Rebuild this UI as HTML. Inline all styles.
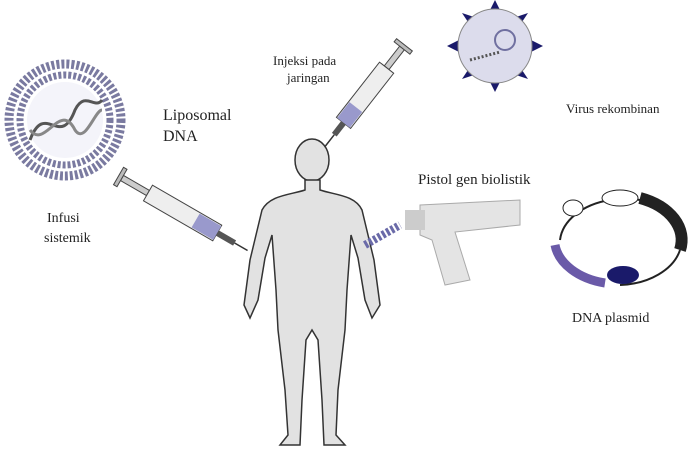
<!DOCTYPE html>
<html><head><meta charset="utf-8"><style>
html,body{margin:0;padding:0;background:#fff;}
svg{display:block;font-family:"Liberation Serif",serif;}
</style></head><body>
<svg width="697" height="450" viewBox="0 0 697 450">
<rect width="697" height="450" fill="#fff"/>
<!-- Liposome -->
<g>
<circle cx="65" cy="120" r="56" fill="none" stroke="#7a7aa0" stroke-width="9" stroke-dasharray="3 2"/>
<circle cx="65" cy="120" r="45" fill="none" stroke="#7a7aa0" stroke-width="7" stroke-dasharray="3 2"/>
<circle cx="65" cy="120" r="38" fill="#f4f4fa"/>
<path d="M30,140 C45,100 60,150 75,110 C85,90 95,110 102,100" fill="none" stroke="#555" stroke-width="3"/>
<path d="M30,130 C45,150 60,100 75,130 C85,145 95,110 102,110" fill="none" stroke="#888" stroke-width="3"/>
</g>
<text x="163" y="120" font-size="16" fill="#222">Liposomal</text>
<text x="163" y="141" font-size="16" fill="#222">DNA</text>
<!-- Left syringe -->
<g transform="translate(122,178) rotate(30)">
<rect x="0" y="-3" width="30" height="6" fill="#ccc" stroke="#444"/>
<rect x="-4" y="-10" width="4" height="20" fill="#bbb" stroke="#444"/>
<rect x="30" y="-9" width="80" height="18" fill="#eee" stroke="#444"/>
<rect x="85" y="-8" width="25" height="16" fill="#9999cc"/>
<rect x="110" y="-3" width="20" height="6" fill="#555"/>
<line x1="130" y1="0" x2="145" y2="0" stroke="#333" stroke-width="1.5"/>
</g>
<text x="47" y="222" font-size="14" fill="#222">Infusi</text>
<text x="44" y="242" font-size="14" fill="#222">sistemik</text>
<!-- Top syringe -->
<g transform="translate(402,48) rotate(128)">
<rect x="0" y="-3" width="25" height="6" fill="#ccc" stroke="#444"/>
<rect x="-4" y="-10" width="4" height="20" fill="#bbb" stroke="#444"/>
<rect x="25" y="-9" width="70" height="18" fill="#eee" stroke="#444"/>
<rect x="75" y="-8" width="20" height="16" fill="#9999cc"/>
<rect x="95" y="-3" width="15" height="6" fill="#555"/>
<line x1="110" y1="0" x2="125" y2="0" stroke="#333" stroke-width="1.5"/>
</g>
<text x="273" y="65" font-size="13" fill="#222">Injeksi pada</text>
<text x="287" y="82" font-size="13" fill="#222">jaringan</text>
<!-- Virus -->
<g>
<g fill="#1a1a6a">
<polygon points="495,0 489,12 501,12"/><polygon points="495,92 489,80 501,80"/>
<polygon points="447,46 459,40 459,52"/><polygon points="543,46 531,40 531,52"/>
<polygon points="462,13 470,25 474,17"/><polygon points="528,13 520,25 516,17"/>
<polygon points="462,79 470,67 474,75"/><polygon points="528,79 520,67 516,75"/>
</g>
<circle cx="495" cy="46" r="37" fill="#dcdcec" stroke="#888"/>
<circle cx="505" cy="40" r="10" fill="none" stroke="#7070a0" stroke-width="2"/>
<path d="M470,60 L500,52" stroke="#555" stroke-width="3" stroke-dasharray="2 2"/>
</g>
<text x="566" y="113" font-size="13" fill="#222">Virus rekombinan</text>
<!-- Human -->
<g>
<ellipse cx="312" cy="160" rx="17" ry="21" fill="#e2e2e2" stroke="#333" stroke-width="1.5"/>
<path d="M305,180 L305,190 C290,195 270,195 262,210 L250,260 L244,305 L250,318 L258,300 L265,258 L272,235 L276,290 L278,330 L285,390 L288,435 L280,445 L300,445 L302,400 L306,340 L312,330 L318,340 L322,400 L324,445 L345,445 L336,435 L338,390 L345,330 L347,290 L351,235 L358,258 L365,300 L372,318 L380,305 L374,260 L362,210 C355,195 335,195 320,190 L320,180 Z" fill="#e2e2e2" stroke="#333" stroke-width="1.5"/>
</g>
<!-- Gun -->
<g>
<path d="M420,205 L520,200 L520,225 L455,232 L470,280 L445,285 L432,240 L420,235 Z" fill="#e4e4e4" stroke="#aaa"/>
<rect x="405" y="210" width="20" height="20" fill="#ccc"/>
<path d="M365,245 L400,225" stroke="#6a6aa8" stroke-width="8" stroke-dasharray="3 2"/>
</g>
<text x="418" y="184" font-size="15" fill="#222">Pistol gen biolistik</text>
<!-- Plasmid -->
<g>
<path d="M560,240 A65,45 0 0 1 680,220" fill="none" stroke="#222" stroke-width="2"/>
<path d="M640,198 A65,45 0 0 1 680,250" fill="none" stroke="#222" stroke-width="12"/>
<path d="M680,250 A65,45 0 0 1 620,285" fill="none" stroke="#222" stroke-width="2"/>
<ellipse cx="623" cy="275" rx="16" ry="9" fill="#1a1a6a"/>
<path d="M605,283 A65,45 0 0 1 555,245" fill="none" stroke="#6a5aa8" stroke-width="9"/>
<ellipse cx="573" cy="208" rx="10" ry="8" fill="#fff" stroke="#222"/>
<ellipse cx="620" cy="198" rx="18" ry="8" fill="#fff" stroke="#222"/>
</g>
<text x="572" y="322" font-size="14" fill="#222">DNA plasmid</text>
</svg>
</body></html>
